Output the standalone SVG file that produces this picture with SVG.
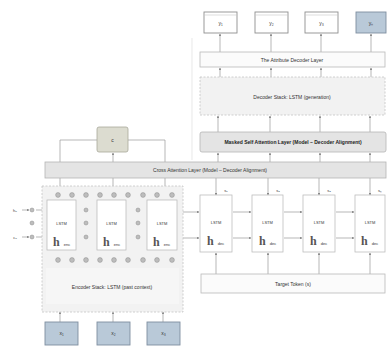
<svg xmlns="http://www.w3.org/2000/svg" width="389" height="348" viewBox="0 0 389 348">
  <style>
    text { font-family: "Liberation Sans", Arial, sans-serif; fill: #333; }
    .lbl { font-size: 5px; text-anchor: middle; }
    .b { font-weight: bold; fill: #222; }
    .sm { font-size: 4px; text-anchor: middle; }
    .layer { fill: #fbfbfb; stroke: #b9b9b9; stroke-width: 0.8; }
    .stack { fill: #f2f2f2; stroke: #c4c4c4; stroke-width: 0.8; stroke-dasharray: 2 1.5; }
    .dark { fill: #e4e4e4; stroke: #b5b5b5; stroke-width: 0.8; }
    .out { fill: #ffffff; stroke: #8f8f8f; stroke-width: 0.9; }
    .blue { fill: #b9c9d8; stroke: #7f8fa0; stroke-width: 0.9; }
    .cell { fill: #ffffff; stroke: #bdbdbd; stroke-width: 0.8; }
    .ctx { fill: #dcdcd0; stroke: #a8a89a; stroke-width: 0.8; }
    .wire { stroke: #9a9a9a; stroke-width: 0.7; fill: none; }
    .wirea { stroke: #9a9a9a; stroke-width: 0.7; fill: none; marker-end: url(#ah); }
    .dot { fill: #bdbdbd; stroke: #8c8c8c; stroke-width: 0.5; }
    .h { font-family: "Liberation Serif", serif; font-size: 12px; font-weight: bold; fill: #555; }
  </style>
  <defs>
    <marker id="ah" viewBox="0 0 6 6" refX="5" refY="3" markerWidth="4" markerHeight="4" orient="auto">
      <path d="M0,0 L6,3 L0,6 z" fill="#888"/>
    </marker>
  </defs>
  <rect width="389" height="348" fill="#ffffff"/>

  <!-- faint frame of the decoder side -->
  <line x1="192" y1="38" x2="192" y2="160" stroke="#ececec" stroke-width="1.2"/>

  <!-- connectors -->
  <g id="connectors">
    <!-- outputs <- attribute layer -->
    <line class="wirea" x1="220" y1="52" x2="220" y2="34"/>
    <line class="wirea" x1="271" y1="52" x2="271" y2="34"/>
    <line class="wirea" x1="321" y1="52" x2="321" y2="34"/>
    <line class="wirea" x1="371" y1="52" x2="371" y2="34"/>
    <!-- decoder stack -> attribute layer -->
    <line class="wirea" x1="220" y1="77" x2="220" y2="68"/>
    <line class="wirea" x1="271" y1="77" x2="271" y2="68"/>
    <line class="wirea" x1="321" y1="77" x2="321" y2="68"/>
    <line class="wirea" x1="371" y1="77" x2="371" y2="68"/>
    <!-- masked attention -> decoder stack -->
    <line class="wirea" x1="218" y1="132" x2="218" y2="116"/>
    <line class="wirea" x1="270" y1="132" x2="270" y2="116"/>
    <line class="wirea" x1="320" y1="132" x2="320" y2="116"/>
    <line class="wirea" x1="370" y1="132" x2="370" y2="116"/>
    <!-- cross attention -> masked attention -->
    <line class="wirea" x1="218" y1="162" x2="218" y2="153"/>
    <line class="wirea" x1="270" y1="162" x2="270" y2="153"/>
    <line class="wirea" x1="320" y1="162" x2="320" y2="153"/>
    <line class="wirea" x1="370" y1="162" x2="370" y2="153"/>
    <!-- context vector -->
    <polyline class="wire" points="97,140 60,140 60,162"/>
    <polyline class="wire" points="128,140 165,140 165,162"/>
    <line class="wirea" x1="113" y1="162" x2="113" y2="153"/>
    <!-- encoder top dots <- cross attention -->
    <line class="wirea" x1="60" y1="178" x2="60" y2="190"/>
    <line class="wirea" x1="113" y1="178" x2="113" y2="190"/>
    <line class="wirea" x1="165" y1="178" x2="165" y2="190"/>
    <!-- decoder cells <- cross attention -->
    <line class="wirea" x1="216" y1="178" x2="216" y2="195"/>
    <line class="wirea" x1="268" y1="178" x2="268" y2="195"/>
    <line class="wirea" x1="319" y1="178" x2="319" y2="195"/>
    <line class="wirea" x1="370" y1="178" x2="370" y2="195"/>
    <!-- encoder inputs on the left -->
    <line class="wirea" x1="22" y1="210" x2="29" y2="210"/>
    <line class="wirea" x1="22" y1="237" x2="29" y2="237"/>
    <line class="wirea" x1="36" y1="210" x2="46" y2="210"/>
    <line class="wirea" x1="36" y1="237" x2="46" y2="237"/>
    <!-- between encoder cells -->
    <line class="wirea" x1="76" y1="210" x2="83" y2="210"/>
    <line class="wirea" x1="76" y1="237" x2="83" y2="237"/>
    <line class="wirea" x1="89" y1="210" x2="96" y2="210"/>
    <line class="wirea" x1="89" y1="237" x2="96" y2="237"/>
    <line class="wirea" x1="126" y1="210" x2="135" y2="210"/>
    <line class="wirea" x1="126" y1="237" x2="135" y2="237"/>
    <line class="wirea" x1="141" y1="210" x2="146" y2="210"/>
    <line class="wirea" x1="141" y1="237" x2="146" y2="237"/>
    <!-- encoder -> decoder state hand-over -->
    <line class="wirea" x1="178" y1="212" x2="199" y2="212"/>
    <line class="wirea" x1="178" y1="238" x2="199" y2="238"/>
    <!-- between decoder cells -->
    <line class="wirea" x1="233" y1="212" x2="251" y2="212"/>
    <line class="wirea" x1="233" y1="238" x2="251" y2="238"/>
    <line class="wirea" x1="284" y1="212" x2="302" y2="212"/>
    <line class="wirea" x1="284" y1="238" x2="302" y2="238"/>
    <line class="wirea" x1="336" y1="212" x2="354" y2="212"/>
    <line class="wirea" x1="336" y1="238" x2="354" y2="238"/>
    <!-- target tokens -> decoder cells -->
    <line class="wirea" x1="216" y1="274" x2="216" y2="253"/>
    <line class="wirea" x1="268" y1="274" x2="268" y2="253"/>
    <line class="wirea" x1="319" y1="274" x2="319" y2="253"/>
    <line class="wirea" x1="370" y1="274" x2="370" y2="253"/>
    <!-- encoder cells <- bottom dots -->
    <line class="wirea" x1="61" y1="257" x2="61" y2="251"/>
    <line class="wirea" x1="111" y1="257" x2="111" y2="251"/>
    <line class="wirea" x1="162" y1="257" x2="162" y2="251"/>
    <!-- inputs -> encoder stack -->
    <line class="wirea" x1="60" y1="322" x2="60" y2="312"/>
    <line class="wirea" x1="113" y1="322" x2="113" y2="312"/>
    <line class="wirea" x1="163" y1="322" x2="163" y2="312"/>
  </g>

  <!-- output tokens -->
  <g id="out1"><rect class="out" x="204" y="12" width="33" height="21"/><line x1="204" y1="15" x2="237" y2="15" stroke="#c8c8c8" stroke-width="0.6"/><text class="lbl" x="220.5" y="24.5">y₁</text></g>
  <g id="out2"><rect class="out" x="255" y="12" width="33" height="21"/><line x1="255" y1="15" x2="288" y2="15" stroke="#c8c8c8" stroke-width="0.6"/><text class="lbl" x="271.5" y="24.5">y₂</text></g>
  <g id="out3"><rect class="out" x="305" y="12" width="33" height="21"/><line x1="305" y1="15" x2="338" y2="15" stroke="#c8c8c8" stroke-width="0.6"/><text class="lbl" x="321.5" y="24.5">y₃</text></g>
  <g id="out4"><rect class="blue" x="356" y="12" width="30" height="21"/><text class="lbl" x="371" y="24.5">yₙ</text></g>

  <g id="attribute-layer">
    <rect class="layer" x="200" y="52" width="185" height="15"/>
    <text class="lbl" x="292" y="61.5">The Attribute Decoder Layer</text>
  </g>

  <g id="decoder-stack">
    <rect class="stack" x="200" y="77" width="185" height="38"/>
    <text class="lbl" x="292" y="99">Decoder Stack: LSTM (generation)</text>
  </g>

  <g id="masked-attention">
    <rect class="dark" x="200" y="132" width="186" height="20" rx="2"/>
    <text class="lbl b" x="293" y="144">Masked Self Attention Layer (Model – Decoder Alignment)</text>
  </g>

  <g id="context">
    <rect class="ctx" x="97" y="127" width="31" height="25" rx="2"/>
    <text class="lbl" x="112.5" y="141.5">c</text>
  </g>

  <g id="cross-attention">
    <rect class="dark" x="45" y="162" width="341" height="16"/>
    <text class="lbl" x="210" y="172">Cross Attention Layer (Model – Decoder Alignment)</text>
  </g>

  <!-- encoder stack -->
  <g id="encoder-stack">
    <rect class="stack" x="42" y="186" width="141" height="126"/>
    <rect x="46" y="268" width="133" height="36" fill="#f6f6f6"/>
    <text class="lbl" x="112" y="289">Encoder Stack: LSTM (past context)</text>
  </g>

  <g id="encoder-dots-top">
    <circle class="dot" cx="58" cy="195" r="2.4"/><circle class="dot" cx="72" cy="195" r="2.4"/>
    <circle class="dot" cx="86" cy="195" r="2.4"/><circle class="dot" cx="100" cy="195" r="2.4"/>
    <circle class="dot" cx="114" cy="195" r="2.4"/><circle class="dot" cx="128" cy="195" r="2.4"/>
    <circle class="dot" cx="143" cy="195" r="2.4"/><circle class="dot" cx="157" cy="195" r="2.4"/>
    <circle class="dot" cx="172" cy="195" r="2.4"/>
  </g>
  <g id="encoder-dots-bottom">
    <circle class="dot" cx="58" cy="260" r="2.4"/><circle class="dot" cx="72" cy="260" r="2.4"/>
    <circle class="dot" cx="86" cy="260" r="2.4"/><circle class="dot" cx="100" cy="260" r="2.4"/>
    <circle class="dot" cx="114" cy="260" r="2.4"/><circle class="dot" cx="128" cy="260" r="2.4"/>
    <circle class="dot" cx="143" cy="260" r="2.4"/><circle class="dot" cx="157" cy="260" r="2.4"/>
    <circle class="dot" cx="172" cy="260" r="2.4"/>
  </g>

  <g id="encoder-inputs">
    <text class="sm" x="15" y="211.5">h₀</text>
    <text class="sm" x="15" y="238.5">c₀</text>
    <circle class="dot" cx="32" cy="210" r="2"/><circle class="dot" cx="32" cy="223" r="2"/><circle class="dot" cx="32" cy="237" r="2"/>
    <circle class="dot" cx="86" cy="210" r="2"/><circle class="dot" cx="86" cy="223" r="2"/><circle class="dot" cx="86" cy="237" r="2"/>
    <circle class="dot" cx="138" cy="210" r="2"/><circle class="dot" cx="138" cy="223" r="2"/><circle class="dot" cx="138" cy="237" r="2"/>
  </g>

  <g id="enc-cell1"><rect class="cell" x="47" y="200" width="29" height="50"/><text class="sm" x="61.5" y="225">LSTM</text><text class="h" x="53" y="246">h</text><text class="sm" x="67" y="246">enc</text></g>
  <g id="enc-cell2"><rect class="cell" x="97" y="200" width="29" height="50"/><text class="sm" x="111.5" y="225">LSTM</text><text class="h" x="103" y="246">h</text><text class="sm" x="117" y="246">enc</text></g>
  <g id="enc-cell3"><rect class="cell" x="147" y="200" width="30" height="50"/><text class="sm" x="162" y="225">LSTM</text><text class="h" x="153" y="246">h</text><text class="sm" x="167" y="246">enc</text></g>

  <g id="in1"><rect class="blue" x="45" y="322" width="33" height="23"/><text class="lbl" x="61.5" y="335">x₁</text></g>
  <g id="in2"><rect class="blue" x="97" y="322" width="33" height="23"/><text class="lbl" x="113.5" y="335">x₂</text></g>
  <g id="in3"><rect class="blue" x="147" y="322" width="33" height="23"/><text class="lbl" x="163.5" y="335">x₃</text></g>

  <!-- decoder cells -->
  <g id="dec-cell1"><rect class="cell" x="200" y="195" width="32" height="57"/><text class="sm" x="226" y="192">s₁</text><text class="sm" x="216" y="224">LSTM</text><text class="h" x="207" y="245">h</text><text class="sm" x="221" y="245">dec</text></g>
  <g id="dec-cell2"><rect class="cell" x="252" y="195" width="31" height="57"/><text class="sm" x="278" y="192">s₂</text><text class="sm" x="267.5" y="224">LSTM</text><text class="h" x="259" y="245">h</text><text class="sm" x="273" y="245">dec</text></g>
  <g id="dec-cell3"><rect class="cell" x="303" y="195" width="32" height="57"/><text class="sm" x="329" y="192">s₃</text><text class="sm" x="319" y="224">LSTM</text><text class="h" x="310" y="245">h</text><text class="sm" x="324" y="245">dec</text></g>
  <g id="dec-cell4"><rect class="cell" x="355" y="195" width="30" height="57"/><text class="sm" x="380" y="192">sₙ</text><text class="sm" x="370" y="224">LSTM</text><text class="h" x="361" y="245">h</text><text class="sm" x="375" y="245">dec</text></g>

  <g id="target-tokens">
    <rect class="layer" x="201" y="274" width="184" height="19"/>
    <text class="lbl" x="293" y="285.5">Target Token (s)</text>
  </g>
</svg>
